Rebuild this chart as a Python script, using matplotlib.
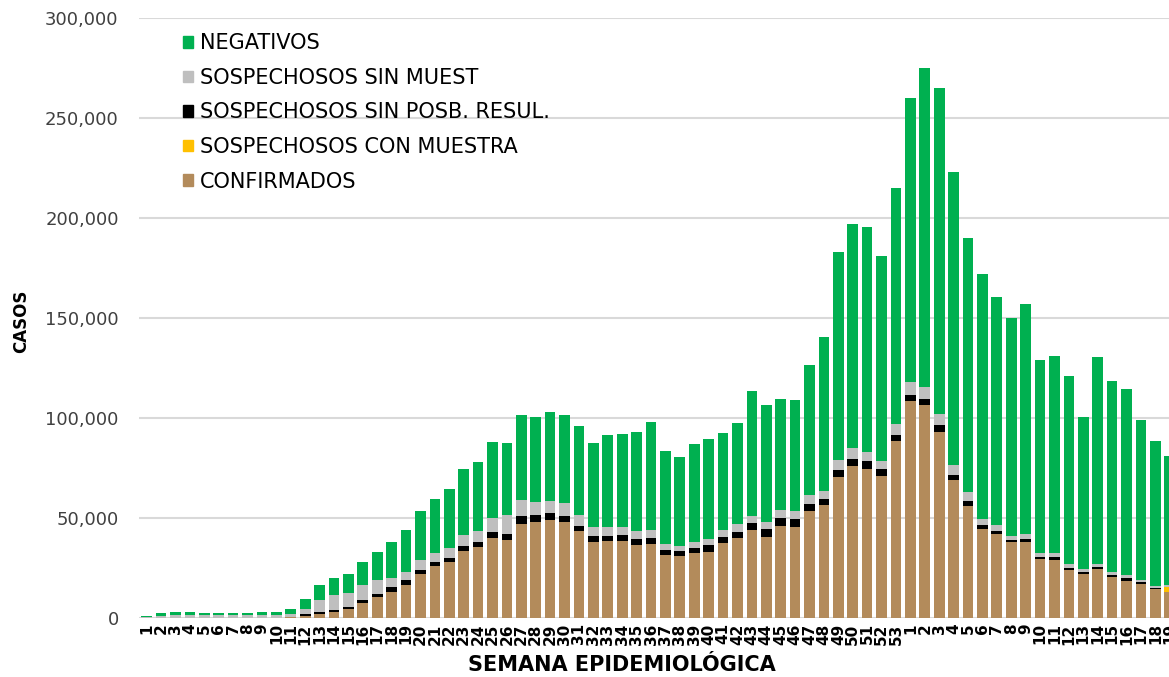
import numpy as np
import matplotlib
matplotlib.use("Agg")
import matplotlib.pyplot as plt
from matplotlib.patches import Patch
from matplotlib.ticker import FuncFormatter

# semanas epidemiologicas: 2020 (1-53) y 2021 (1-19)
weeks = [str(w) for w in range(1, 54)] + [str(w) for w in range(1, 20)]

confirmados = [0, 0, 0, 0, 0, 0, 0, 0, 0, 0, 400, 1000, 1800, 2800, 4500, 7500,
               10300, 13000, 16300, 21700, 25700, 27800, 33500, 35200, 39700, 38800,
               46700, 47700, 48800, 47700, 43200, 37800, 38300, 38300, 36500, 37000,
               31200, 31000, 32200, 32900, 37100, 39600, 43800, 40200, 46000, 45400,
               53300, 56400, 70200, 75900, 74200, 70900, 88400,
               108500, 106500, 92800, 68800, 55600, 44200, 41600, 37600, 38000, 29100,
               28700, 24000, 21600, 24300, 20100, 18500, 16700, 14100, 12800]
con_muestra = [0] * 69 + [100, 200, 2300]
sin_posb = [0, 0, 0, 0, 0, 0, 0, 0, 0, 0, 100, 700, 1200, 900, 800, 1200,
            1700, 2200, 2500, 2300, 2100, 2200, 2300, 2600, 3000, 3000,
            4100, 3500, 3700, 3100, 2800, 2900, 2700, 3000, 2800, 2700,
            2600, 2500, 2700, 3400, 3400, 3300, 3300, 4000, 4000, 4100,
            3600, 2700, 3500, 3600, 3900, 3500, 3100,
            2900, 2900, 3600, 2700, 2600, 2200, 1700, 1300, 1300, 1000,
            1400, 1000, 1300, 1100, 1300, 1300, 1000, 700, 300]
sin_muestra = [300, 1000, 1300, 1300, 1100, 1100, 1100, 1100, 1300, 1300, 1500, 2500,
               6000, 7500, 7000, 7800, 6800, 4500, 4000, 4700, 4700, 4800, 5500, 5700,
               7300, 9500, 7900, 6600, 5700, 6400, 5300, 4500, 4500, 4200, 4200, 4100,
               3000, 2500, 2800, 3100, 3300, 3800, 3600, 3800, 3600, 3600, 4600, 4200,
               4900, 5100, 4900, 4000, 5100,
               6200, 5800, 5500, 4900, 4600, 2700, 3100, 2000, 2500, 2200,
               2200, 1900, 1600, 1500, 1300, 1400, 1200, 900, 700]
negativos = [500, 1200, 1500, 1500, 1200, 1200, 1200, 1200, 1500, 1500, 2500, 5100,
             7500, 8500, 9400, 11300, 14000, 18000, 21200, 24800, 27000, 29500, 33000,
             34500, 37800, 36000, 42600, 42700, 44800, 44100, 44400, 42100, 45700,
             46500, 49300, 53900, 46500, 44200, 49000, 50100, 48600, 50700, 62500,
             58500, 55600, 55700, 64600, 77200, 104000, 112400, 112400, 102200, 118200,
             142100, 159600, 162700, 146600, 127100, 122800, 113800, 108700, 114800,
             96600, 98400, 93800, 75800, 103600, 95600, 93100, 79800, 72200, 64700]

series = [
    ("CONFIRMADOS", confirmados, "#B38B5B"),
    ("SOSPECHOSOS CON MUESTRA", con_muestra, "#FFC000"),
    ("SOSPECHOSOS SIN POSB. RESUL.", sin_posb, "#000000"),
    ("SOSPECHOSOS SIN MUEST", sin_muestra, "#BFBFBF"),
    ("NEGATIVOS", negativos, "#00B050"),
]

fig = plt.figure(figsize=(11.69, 6.77), dpi=100)
ax = fig.add_axes([0.1193, 0.0876, 0.8875, 0.8863])

x = np.arange(1, len(weeks) + 1)
bottom = np.zeros(len(weeks))
for name, vals, col in series:
    vals = np.array(vals, dtype=float)
    ax.bar(x, vals, width=0.74, bottom=bottom, color=col, zorder=3)
    bottom += vals

ax.set_xlim(0.5, len(weeks) + 0.5)
ax.set_ylim(0, 300000)
ax.set_yticks(np.arange(0, 300001, 50000))
ax.yaxis.set_major_formatter(FuncFormatter(lambda v, p: f"{int(v):,}"))
ax.set_xticks(x)
ax.set_xticklabels(weeks, rotation=90, fontsize=11, fontweight="bold")
ax.tick_params(axis="y", length=0, pad=15, labelsize=13, labelcolor="#404040")
ax.tick_params(axis="x", length=0, pad=4)
ax.yaxis.grid(True, color="#D9D9D9", lw=1.5, zorder=0)
for s in ax.spines.values():
    s.set_visible(False)

fig.text(0.018, 0.525, "CASOS", rotation=90, ha="center", va="center",
         fontsize=12, fontweight="bold")
fig.text(0.532, 0.017, "SEMANA EPIDEMIOLÓGICA", ha="center", va="center",
         fontsize=15, fontweight="bold")

handles = [Patch(color=c, label=n) for n, v, c in series[::-1]]
fig.legend(handles=handles, loc="upper left", bbox_to_anchor=(0.1565, 0.951),
           frameon=False, fontsize=15, handlelength=0.48, handleheight=0.48,
           handletextpad=0.33, labelspacing=0.70, borderpad=0, borderaxespad=0)

fig.savefig("out.png", dpi=100)
